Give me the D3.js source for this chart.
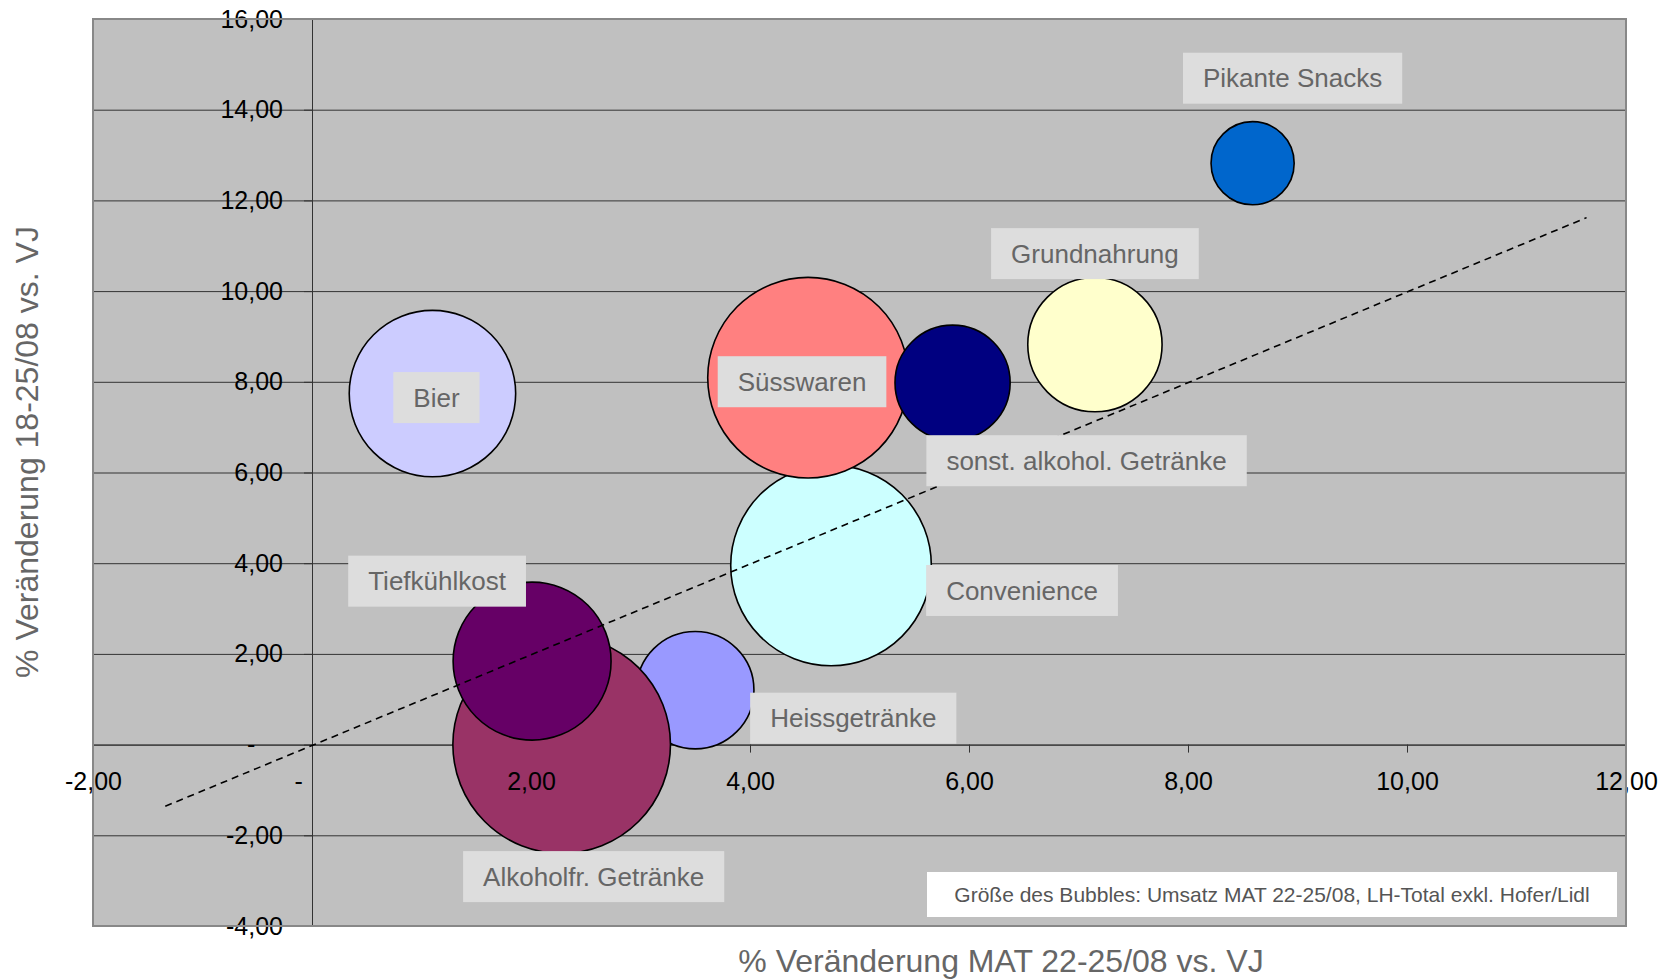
<html><head>
<title>Bubble chart - Warengruppen</title>
<script src="https://d3js.org/d3.v7.min.js"></script>
<style>
  body { margin: 0; background: #fff; }
  svg text { font-family: "Liberation Sans", Arial, sans-serif; }
  .axis .domain { stroke: #333; }
  .axis line { stroke: #333; }
  .axis text { fill: #000; font-size: 25px; }
  .axislabels .domain, .axislabels line { display: none; }
  .axislabels text { fill: #000; font-size: 25px; white-space: pre; }
  .gridlines line { stroke: #333; }
  .gridlines .domain { stroke: none; }
  .title { fill: #666; font-size: 32px; }
  .dlabel { fill: #666; font-size: 26px; }
</style>
</head>
<body>
<svg id="bubbles" width="1673" height="980"></svg>

<script>

// data
const categories = ["Convenience", "Süsswaren", "sonst. alkohol. Getränke", "Heissgetränke",
                    "Alkoholfr. Getränke", "Tiefkühlkost", "Bier", "Grundnahrung", "Pikante Snacks"];
const mat  = [4.74, 4.53, 5.85, 3.50, 2.28, 2.01, 1.10, 7.15, 8.59];   // % Veränderung MAT
const week = [3.95, 8.09, 7.98, 1.20, 0.00, 1.84, 7.74, 8.82, 12.82];  // % Veränderung 18-25/08
const umsatz = [85.0, 85.0, 28.0, 29.1, 100, 52.7, 58.5, 38.1, 14.6];  // bubble size (relative)
const colors = ["#CCFFFF", "#FF8080", "#000080", "#9999FF", "#993366", "#660066", "#CCCCFF", "#FFFFCC", "#0066CC"];

const xTicks = [-2, 0, 2, 4, 6, 8, 10, 12];
const xTickLabels = ["-2,00", "-\u00a0\u00a0\u00a0\u00a0", "2,00", "4,00", "6,00", "8,00", "10,00", "12,00"];
const yTicks = [-4, -2, 0, 2, 4, 6, 8, 10, 12, 14, 16];
const yTickLabels = ["-4,00", "-2,00", "-\u00a0\u00a0\u00a0\u00a0", "2,00", "4,00", "6,00", "8,00", "10,00", "12,00", "14,00", "16,00"];

// diagonal reference line
const refX = [-1.34, 11.64];
const refY = [-1.36, 11.62];

// where the data labels sit, px offset from bubble centre
const labelOffsets = {
  "Convenience": [191, 25],
  "Süsswaren": [-6, 4],
  "sonst. alkohol. Getränke": [134, 78],
  "Heissgetränke": [158, 28],
  "Alkoholfr. Getränke": [32, 132],
  "Tiefkühlkost": [-95, -80],
  "Bier": [4, 4],
  "Grundnahrung": [0, -91],
  "Pikante Snacks": [40, -85]
};

const svg = d3.select("svg#bubbles");
const margin = {top: 19, right: 47, bottom: 54, left: 93};
const width = +svg.attr("width");
const height = +svg.attr("height");
const chartWidth = width - margin.left - margin.right;
const chartHeight = height - margin.top - margin.bottom;

const xScale = d3.scaleLinear().domain([-2, 12]).range([0, chartWidth]);
const yScale = d3.scaleLinear().domain([-4, 16]).range([chartHeight, 0]);
const rScale = d3.scaleSqrt().domain([0, d3.max(umsatz)]).range([0, 108.8]);

let chartArea = svg.append("g")
  .attr("transform", "translate(" + margin.left + "," + margin.top + ")");

// plot background
chartArea.append("rect")
  .attr("width", chartWidth).attr("height", chartHeight)
  .attr("fill", "#C0C0C0");

// horizontal gridlines
chartArea.append("g")
  .attr("class", "gridlines")
  .call(d3.axisLeft(yScale).tickValues(yTicks).tickSize(-chartWidth).tickFormat(""));

// axes: lines go under the bubbles, tick texts over them
let yAxis = d3.axisLeft(yScale).tickValues(yTicks).tickSize(8).tickSizeOuter(0).tickPadding(21)
              .tickFormat((d, i) => yTickLabels[i]);
let xAxis = d3.axisBottom(xScale).tickValues(xTicks).tickSize(8).tickSizeOuter(0).tickPadding(20)
              .tickFormat((d, i) => xTickLabels[i]);

chartArea.append("g")
  .attr("class", "y axis")
  .attr("transform", "translate(" + xScale(0) + ",0)")
  .call(yAxis)
  .selectAll("text").remove();

chartArea.append("g")
  .attr("class", "x axis")
  .attr("transform", "translate(0," + yScale(0) + ")")
  .call(xAxis)
  .selectAll("text").remove();

// bubbles
categories.forEach((c, i) => {
  chartArea.append("circle")
    .attr("cx", xScale(mat[i]))
    .attr("cy", yScale(week[i]))
    .attr("r", rScale(umsatz[i]))
    .attr("fill", colors[i])
    .attr("stroke", "#000")
    .attr("stroke-width", 1.6);
});

// reference line
chartArea.append("line")
  .attr("x1", xScale(refX[0])).attr("y1", yScale(refY[0]))
  .attr("x2", xScale(refX[1])).attr("y2", yScale(refY[1]))
  .attr("stroke", "#000")
  .attr("stroke-width", 1.6)
  .attr("stroke-dasharray", "7,5");

chartArea.append("g")
  .attr("class", "axislabels")
  .attr("transform", "translate(" + xScale(0) + ",0)")
  .call(yAxis);

chartArea.append("g")
  .attr("class", "axislabels")
  .attr("transform", "translate(0," + yScale(0) + ")")
  .call(xAxis);

// data labels with grey boxes
categories.forEach((c, i) => {
  let off = labelOffsets[c];
  let cx = xScale(mat[i]) + off[0];
  let cy = yScale(week[i]) + off[1];
  let g = chartArea.append("g");
  let box = g.append("rect").attr("fill", "#DDDDDD");
  let txt = g.append("text")
    .attr("class", "dlabel")
    .attr("x", cx).attr("y", cy)
    .attr("text-anchor", "middle")
    .attr("dy", "0.35em")
    .text(c);
  let w = txt.node().getComputedTextLength();
  box.attr("x", cx - w / 2 - 20).attr("y", cy - 25.5)
     .attr("width", w + 40).attr("height", 51);
});

// note box
let noteW = 690, noteH = 45;
let noteX = chartWidth - noteW - 9, noteY = chartHeight - noteH - 9;
chartArea.append("rect")
  .attr("x", noteX).attr("y", noteY)
  .attr("width", noteW).attr("height", noteH)
  .attr("fill", "#fff");
chartArea.append("text")
  .attr("x", noteX + noteW / 2).attr("y", noteY + noteH / 2)
  .attr("dy", "0.35em")
  .attr("text-anchor", "middle")
  .style("font-size", "21px")
  .style("fill", "#555")
  .text("Größe des Bubbles: Umsatz MAT 22-25/08, LH-Total exkl. Hofer/Lidl");

// plot border
chartArea.append("rect")
  .attr("width", chartWidth).attr("height", chartHeight)
  .attr("fill", "none")
  .attr("stroke", "#888")
  .attr("stroke-width", 2);

// axis titles
svg.append("text")
  .attr("class", "title")
  .attr("x", 1001)
  .attr("y", 972)
  .attr("text-anchor", "middle")
  .text("% Veränderung MAT 22-25/08 vs. VJ");

svg.append("text")
  .attr("class", "title")
  .attr("transform", "translate(38," + 452 + ") rotate(-90)")
  .attr("text-anchor", "middle")
  .text("% Veränderung 18-25/08 vs. VJ");

</script>
</body>
</html>
